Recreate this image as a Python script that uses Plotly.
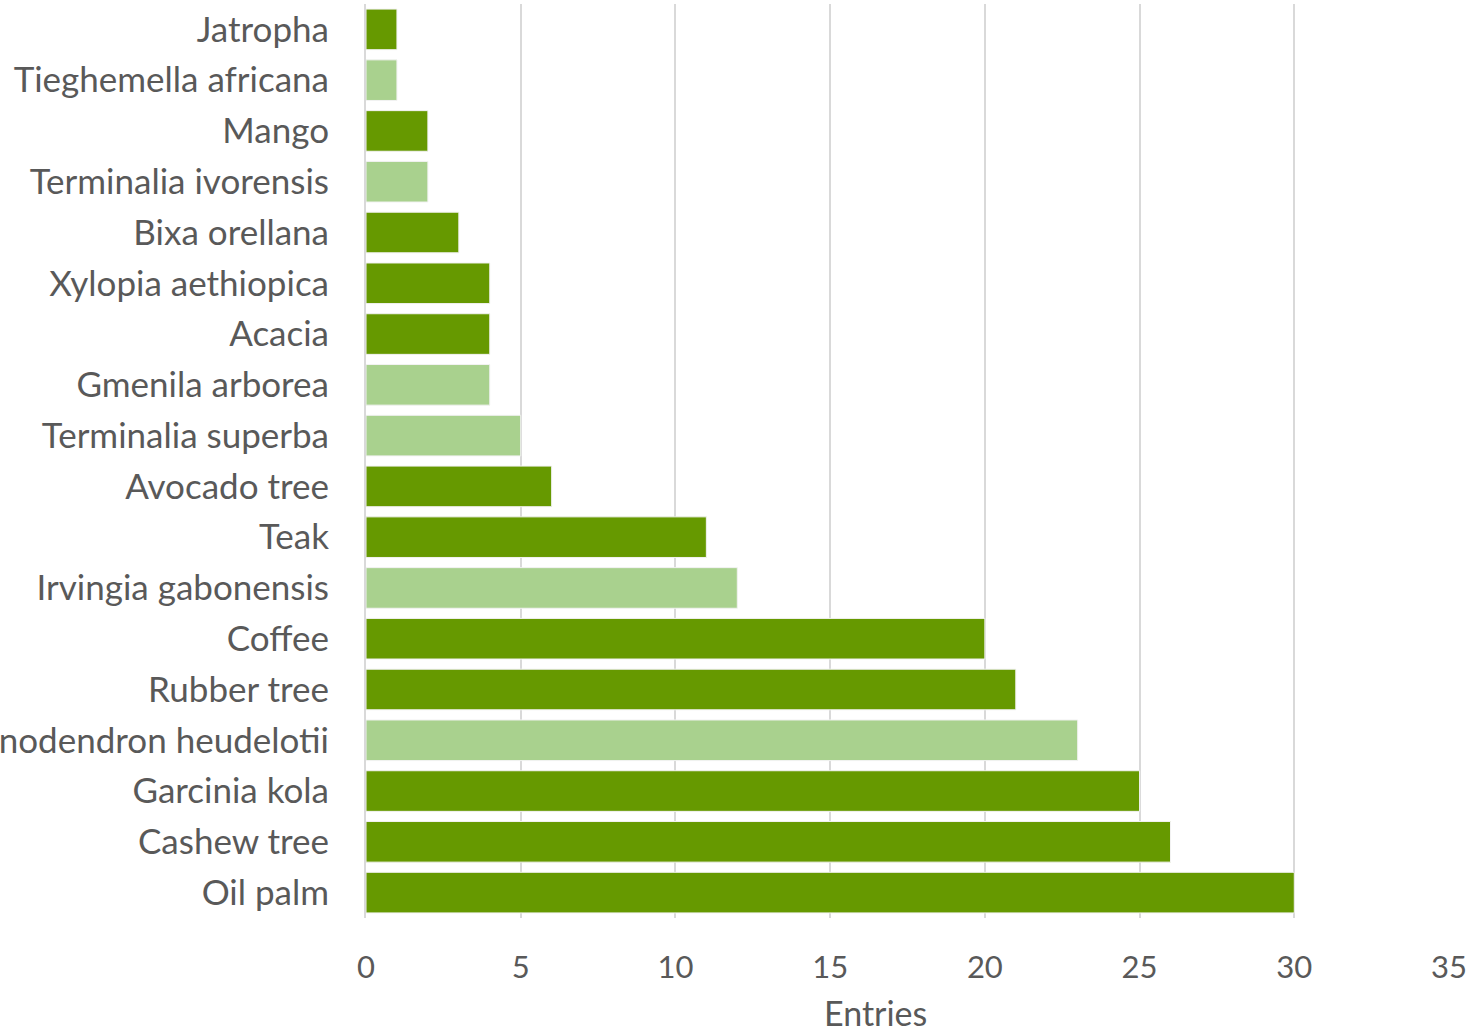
import plotly.graph_objects as go

species = ["Jatropha", "Tieghemella africana", "Mango", "Terminalia ivorensis",
           "Bixa orellana", "Xylopia aethiopica", "Acacia", "Gmenila arborea",
           "Terminalia superba", "Avocado tree", "Teak", "Irvingia gabonensis",
           "Coffee", "Rubber tree", "Ricinodendron heudelotii", "Garcinia kola",
           "Cashew tree", "Oil palm"]
entries = [1, 1, 2, 2, 3, 4, 4, 4, 5, 6, 11, 12, 20, 21, 23, 25, 26, 30]
group = ["dark", "light", "dark", "light", "dark", "dark", "dark", "light",
         "light", "dark", "dark", "light", "dark", "dark", "light", "dark",
         "dark", "dark"]
x_ticks = [0, 5, 10, 15, 20, 25, 30, 35]

palette = {"dark": "#669900", "light": "#A9D18E"}
colors = [palette[g] for g in group]

FONT = "Lato, 'Open Sans', sans-serif"
GREY = "#595959"

fig = go.Figure(go.Bar(
    y=species, x=entries, orientation="h",
    marker=dict(color=colors, line=dict(color="#f2f2f2", width=1)),
    width=0.8,
))

fig.update_layout(
    width=1473, height=1031,
    margin=dict(l=366, r=24, t=4, b=113, autoexpand=False),
    paper_bgcolor="white", plot_bgcolor="white",
    showlegend=False,
    font=dict(family=FONT, size=34, color=GREY),
    bargap=0.2,
    annotations=[dict(
        text="Entries", x=0.47, xref="paper", y=-0.103, yref="paper",
        xanchor="center", yanchor="middle", showarrow=False,
        font=dict(size=34, color=GREY),
    )],
)
fig.update_xaxes(
    range=[0, 35], tickvals=x_ticks, ticktext=[str(t) for t in x_ticks],
    showgrid=True, gridcolor="#d9d9d9", gridwidth=2,
    zeroline=False, showline=False, ticks="",
    tickfont=dict(size=31, color=GREY),
    ticklabelstandoff=28,
    automargin=False,
)
fig.update_yaxes(
    autorange="reversed", showgrid=False, zeroline=False,
    showline=True, linecolor="#d9d9d9", linewidth=2,
    ticks="", ticklabelstandoff=28,
    tickfont=dict(size=35, color=GREY),
    automargin=False,
)

fig.write_html("out.html")
